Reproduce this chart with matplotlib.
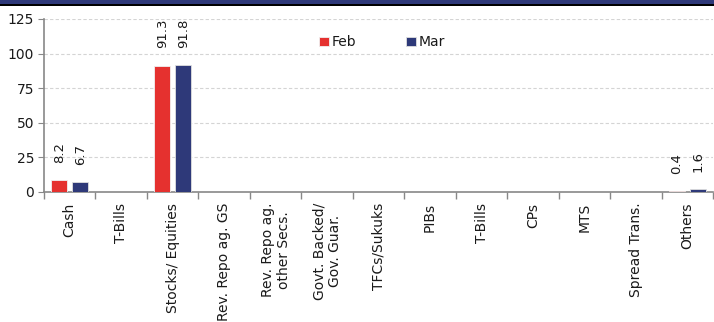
import numpy as np
import matplotlib.pyplot as plt
from matplotlib.patches import Rectangle

categories = ["Cash", "T-Bills", "Stocks/ Equities", "Rev. Repo ag. GS",
              "Rev. Repo ag.\nother Secs.", "Govt. Backed/\nGov. Guar.",
              "TFCs/Sukuks", "PIBs", "T-Bills", "CPs", "MTS",
              "Spread Trans.", "Others"]
feb = [8.2, 0, 91.3, 0, 0, 0, 0, 0, 0, 0, 0, 0, 0.4]
mar = [6.7, 0, 91.8, 0, 0, 0, 0, 0, 0, 0, 0, 0, 1.6]
yticks = [0, 25, 50, 75, 100, 125]

red = "#E5312F"
navy = "#2E3979"
text_col = "#1a1a1a"

fig = plt.figure(figsize=(7.14, 3.22), dpi=100)
ax = fig.add_axes([0.0616, 0.4047, 0.9374, 0.5363])

# header band across the top
fig.patches.append(Rectangle((0, 0.9875), 1, 0.0125, transform=fig.transFigure,
                             facecolor=navy, edgecolor="none", zorder=0))
fig.patches.append(Rectangle((0, 0.981), 1, 0.0065, transform=fig.transFigure,
                             facecolor="black", edgecolor="none", zorder=0))

x = np.arange(len(categories))
w = 0.31
b1 = ax.bar(x - 0.205, feb, w, color=red, edgecolor="#f0f0f0", lw=0.6,
            label="Feb", zorder=3)
b2 = ax.bar(x + 0.205, mar, w, color=navy, edgecolor="#e0e0e0", lw=0.6,
            label="Mar", zorder=3)

for bars, vals in ((b1, feb), (b2, mar)):
    for r, v in zip(bars, vals):
        if v == 0:
            continue
        ax.annotate(f"{v:.1f}", (r.get_x() + r.get_width() / 2, v),
                    xytext=(0, 12.5), textcoords="offset points",
                    rotation=90, ha="center", va="bottom",
                    fontsize=9.5, color=text_col)

ax.set_xlim(-0.5, len(categories) - 0.5)
ax.set_ylim(0, 125)
ax.set_yticks(yticks)
ax.set_yticklabels([str(t) for t in yticks], fontsize=10, color=text_col)
ax.tick_params(axis="y", length=4, color="#888888", pad=3)

ax.set_xticks(x)
ax.set_xticklabels(categories, rotation=90, fontsize=10, color=text_col,
                   va="top", ha="center", multialignment="center")
ax.tick_params(axis="x", length=0, pad=8)
ax.set_xticks(np.arange(len(categories) + 1) - 0.5, minor=True)
ax.tick_params(axis="x", which="minor", length=5, color="#888888", width=1)

ax.grid(axis="y", linestyle=(0, (3, 2)), color="#d4d4d4", lw=0.8, zorder=0)
for s in ("top", "right"):
    ax.spines[s].set_visible(False)
for s in ("left", "bottom"):
    ax.spines[s].set_color("#888888")
    ax.spines[s].set_linewidth(1.2)

ax.legend(loc="center", bbox_to_anchor=(0.505, 0.865), ncol=2, frameon=False,
          fontsize=10, handlelength=0.7, handleheight=0.7, handletextpad=0.2,
          columnspacing=3.6, labelcolor=text_col)

fig.savefig("out.png", dpi=100)
